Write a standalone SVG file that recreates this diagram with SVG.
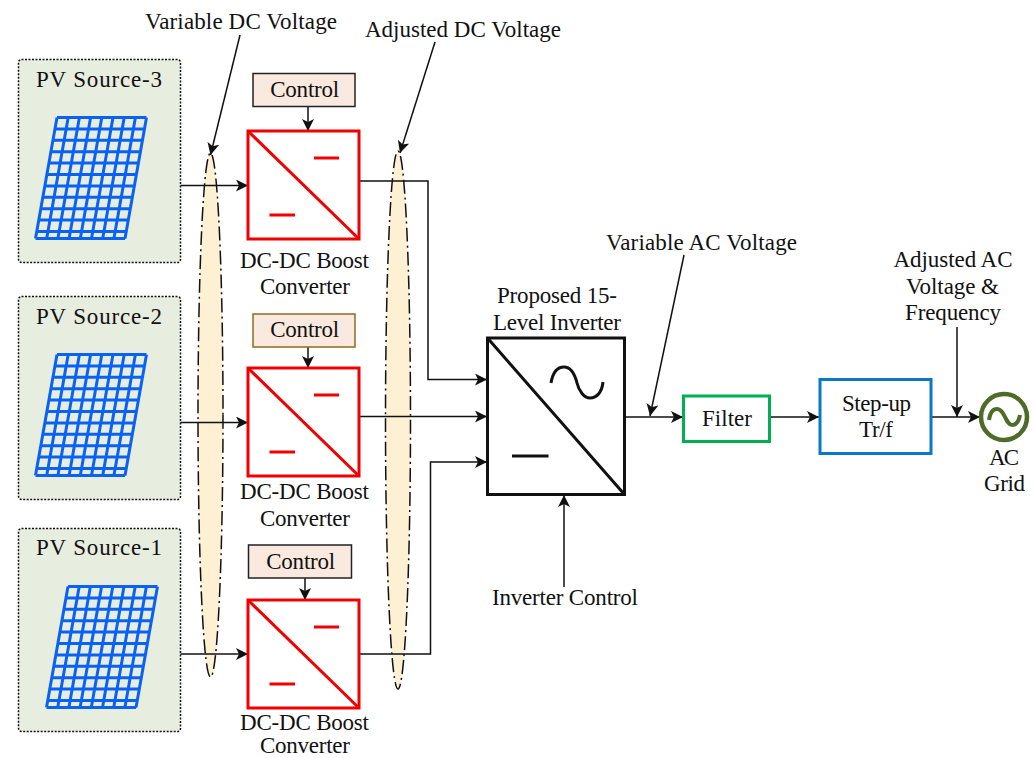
<svg xmlns="http://www.w3.org/2000/svg" width="1035" height="758" viewBox="0 0 1035 758">
<style>
text{font-family:"Liberation Serif","Times New Roman",serif;font-size:23px;fill:#111;text-anchor:middle}
.pv{fill:#e8eedf;stroke:#111;stroke-width:1.5;stroke-dasharray:2 1.5}
.grid{fill:none;stroke:#0a62f5;stroke-width:3;stroke-linejoin:round}
.conv{fill:#fff;stroke:#f00000;stroke-width:3}
.red{fill:none;stroke:#f00000;stroke-width:3}
.ctl{fill:#fae9de;stroke:#222;stroke-width:1.5}
.el{fill:#fdf0d3;stroke:#111;stroke-width:1.5;stroke-dasharray:14 4 2 4}
.c{fill:none;stroke:#111;stroke-width:1.5;marker-end:url(#a)}
.blk{fill:none;stroke:#111;stroke-width:3}
</style>
<defs>
<marker id="a" markerUnits="userSpaceOnUse" markerWidth="14" markerHeight="14" refX="12" refY="6" orient="auto"><path d="M0 0L12 6L0 12L3 6Z" fill="#111"/></marker>
<g id="panel"><path class="grid" d="M57 117.500H146.500M55 128.900H144.500M53 140.300H142.500M51 151.700H140.500M48.900 163.100H138.400M46.900 174.500H136.400M44.800 185.900H134.300M42.800 197.300H132.300M40.800 208.700H130.300M38.700 220.100H128.200M36.700 231.500H126.200M35.500 238.500H125M57 117.500L35.500 238.500M68.200 117.500L46.700 238.500M79.400 117.500L57.900 238.500M90.600 117.500L69.100 238.500M101.800 117.500L80.300 238.500M113 117.500L91.500 238.500M124.200 117.500L102.700 238.500M135.400 117.500L113.900 238.500M146.500 117.500L125 238.500"/></g>
<g id="conv"><rect class="conv" x="248" y="131" width="111" height="108"/><path class="red" d="M248 131L359 239M314 158H339M269.500 215H295"/></g>
</defs>
<g id="ellipses">
<ellipse class="el" cx="210.500" cy="415" rx="12.500" ry="262"/>
<ellipse class="el" cx="398" cy="420" rx="12.500" ry="269"/>
</g>
<g id="connectors">
<path class="c" d="M180 185.500H248"/>
<path class="c" d="M180 422.500H248"/>
<path class="c" d="M177 654H248"/>
<path class="c" d="M308 107V131"/>
<path class="c" d="M308 347V368"/>
<path class="c" d="M305 578V600"/>
<path class="c" d="M359 181H428V379.500H487"/>
<path class="c" d="M359 416.500H487"/>
<path class="c" d="M359 654H430.500V462H487"/>
<path class="c" d="M625 417H683"/>
<path class="c" d="M770 417H819"/>
<path class="c" d="M931 417H980"/>
<path class="c" d="M564 587V495"/>
<path class="c" d="M240 35L210.500 155"/>
<path class="c" d="M435 42L400 153"/>
<path class="c" d="M684 255L650 416"/>
<path class="c" d="M957 327V417"/>
</g>
<g id="pv3"><rect class="pv" x="18.500" y="59.500" width="162" height="203" rx="3"/><use href="#panel"/><text x="99" y="87" textLength="126">PV Source-3</text></g>
<g id="pv2"><rect class="pv" x="18.500" y="296.500" width="162" height="203" rx="3"/><use href="#panel" y="237"/><text x="99" y="324" textLength="126">PV Source-2</text></g>
<g id="pv1"><rect class="pv" x="18.500" y="528.500" width="162" height="203" rx="3"/><use href="#panel" x="11" y="469"/><text x="99" y="555" textLength="126">PV Source-1</text></g>
<g id="ctl3"><rect class="ctl" x="253" y="73.500" width="102" height="33"/><text x="304.700" y="97" textLength="69">Control</text></g>
<g id="ctl2"><rect class="ctl" x="253" y="314" width="102" height="33" style="stroke:#8a6d1f"/><text x="304.700" y="336.500" textLength="69">Control</text></g>
<g id="ctl1"><rect class="ctl" x="248.500" y="545" width="103" height="33"/><text x="300.700" y="568.500" textLength="69">Control</text></g>
<g id="conv3"><use href="#conv"/><text x="304.500" y="268" textLength="129">DC-DC Boost</text><text x="305" y="294" textLength="90">Converter</text></g>
<g id="conv2"><use href="#conv" y="237"/><text x="304.500" y="499" textLength="129">DC-DC Boost</text><text x="305" y="526" textLength="90">Converter</text></g>
<g id="conv1"><use href="#conv" y="469"/><text x="304.500" y="730" textLength="129">DC-DC Boost</text><text x="305" y="753" textLength="90">Converter</text></g>
<g id="inverter"><rect x="487.500" y="338" width="137" height="156.500" fill="#fff" class="blk"/><path class="blk" d="M487.500 338L624.500 494.500M512 456H548.500M551 383C553 371 558 367 564 367C571 367 575 375 577 383C579 391 584 398 590 398C597 398 602 392 603 382"/><text x="557" y="303" textLength="120">Proposed 15-</text><text x="557" y="330" textLength="128">Level Inverter</text></g>
<g id="filter"><rect x="683.500" y="396" width="86" height="45.500" fill="#fff" stroke="#00b050" stroke-width="3"/><text x="727" y="426" textLength="50">Filter</text></g>
<g id="stepup"><rect x="820" y="379.500" width="111" height="74" fill="#fff" stroke="#0a78c8" stroke-width="3"/><text x="876.500" y="411" textLength="69">Step-up</text><text x="876" y="437" textLength="34">Tr/f</text></g>
<g id="grid"><circle cx="1004" cy="417" r="23" fill="#fff" stroke="#4f6b28" stroke-width="4.500"/><path d="M989 420C990 413 993 409 997 409C1002 409 1003 414 1005 417C1007 421 1009 425 1012 425C1016 425 1019 421 1020 415" fill="none" stroke="#4f6b28" stroke-width="4"/><text x="1004" y="465" textLength="30">AC</text><text x="1004.500" y="491" textLength="41">Grid</text></g>
<g id="labels">
<text x="241" y="29" textLength="192">Variable DC Voltage</text>
<text x="463" y="37" textLength="196">Adjusted DC Voltage</text>
<text x="701.500" y="250" textLength="191">Variable AC Voltage</text>
<text x="953" y="267" textLength="119">Adjusted AC</text>
<text x="952.500" y="294" textLength="93">Voltage &amp;</text>
<text x="953" y="320" textLength="96">Frequency</text>
<text x="565" y="605" textLength="146">Inverter Control</text>
</g>
</svg>
